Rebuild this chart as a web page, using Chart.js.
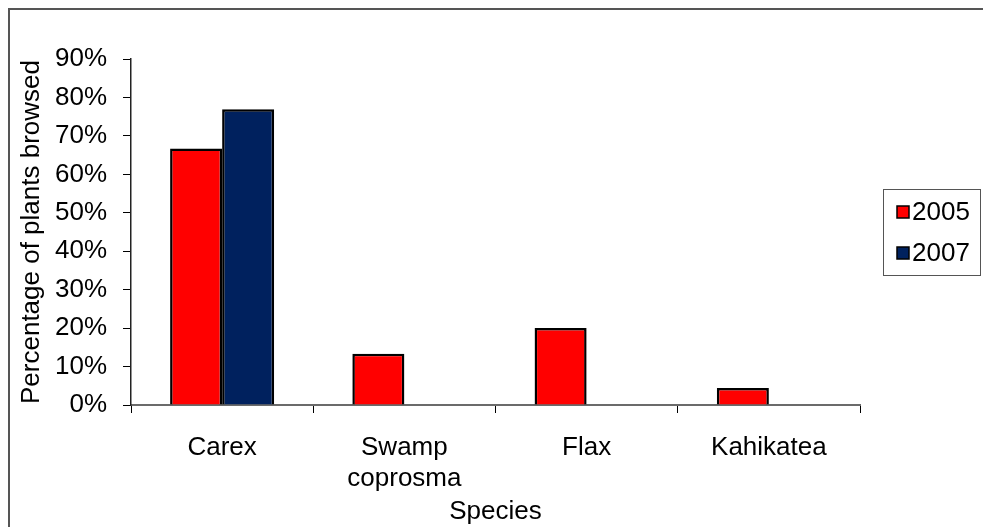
<!DOCTYPE html>
<html>
<head>
<meta charset="utf-8">
<script src="https://cdn.jsdelivr.net/npm/chart.js@4/dist/chart.umd.min.js"></script>
<style>
  html, body { margin: 0; padding: 0; background: #fff; overflow: hidden; }
  #wrap { position: relative; width: 983px; height: 527px; }
  #frame { position: absolute; left: 8px; top: 8px; width: 1100px; height: 700px;
           border: 2px solid #555; box-sizing: border-box; }
  canvas { position: absolute; left: 0; top: 0; }
</style>
</head>
<body>
<div id="wrap">
  <div id="frame"></div>
  <canvas id="chart" width="983" height="527"></canvas>
</div>
<script>
// Chart data
const species = ['Carex', ['Swamp', 'coprosma'], 'Flax', 'Kahikatea'];
const years = ['2005', '2007'];
const browsed2005 = [66.7, 13.3, 20, 4.4];
const browsed2007 = [76.9, 0, 0, 0];
const yTicks = [0, 10, 20, 30, 40, 50, 60, 70, 80, 90];

const barColors = ['#ff0000', '#00215e'];
const FONT = "'Liberation Sans', Arial, sans-serif";

Chart.defaults.font.family = FONT;
Chart.defaults.color = '#000';

// Legend drawn as a boxed key like the original
const boxLegend = {
    id: 'boxLegend',
    afterDraw(chart) {
        const ctx = chart.ctx;
        ctx.save();
        ctx.strokeStyle = '#555';
        ctx.lineWidth = 1;
        ctx.strokeRect(883.5, 189.5, 97, 86);
        ctx.font = '26px ' + FONT;
        ctx.textBaseline = 'middle';
        ctx.textAlign = 'left';
        chart.data.datasets.forEach((ds, i) => {
            const cy = 212 + i * 41;
            ctx.fillStyle = ds.backgroundColor;
            ctx.fillRect(897, cy - 6, 12, 12);
            ctx.strokeStyle = '#000';
            ctx.lineWidth = 1.5;
            ctx.strokeRect(897, cy - 6, 12, 12);
            ctx.fillStyle = '#000';
            ctx.fillText(ds.label, 912, cy + 1);
        });
        ctx.restore();
    }
};

const ctx = document.getElementById('chart').getContext('2d');
new Chart(ctx, {
    type: 'bar',
    data: {
        labels: species,
        datasets: [
            {
                label: years[0],
                data: browsed2005,
                backgroundColor: barColors[0],
                borderColor: '#000',
                borderWidth: 2.5,
                categoryPercentage: 0.571,
                barPercentage: 1
            },
            {
                label: years[1],
                data: browsed2007,
                backgroundColor: barColors[1],
                borderColor: '#000',
                borderWidth: 2.5,
                categoryPercentage: 0.571,
                barPercentage: 1
            }
        ]
    },
    options: {
        responsive: false,
        animation: false,
        layout: { padding: { left: 0, right: 123, top: 59, bottom: 0 } },
        plugins: {
            legend: { display: false },
            tooltip: { enabled: false }
        },
        scales: {
            x: {
                afterFit: s => { s.height = 122; },
                grid: { drawOnChartArea: false, offset: true, tickLength: 8, color: '#000', lineWidth: 1 },
                border: { color: '#6b6b6b', width: 2 },
                ticks: { font: { size: 26 }, color: '#000', padding: 19, maxRotation: 0, autoSkip: false },
                title: { display: true, text: 'Species', font: { size: 26 }, color: '#000', padding: { top: 0, bottom: 0 } }
            },
            y: {
                min: 0,
                max: 90,
                afterFit: s => { s.width = 131; },
                afterBuildTicks: s => { s.ticks = yTicks.map(v => ({ value: v })); },
                grid: { drawOnChartArea: false, tickLength: 8, color: '#000', lineWidth: 1 },
                border: { color: '#222', width: 1.5 },
                ticks: { font: { size: 26 }, color: '#000', padding: 16, callback: v => v + '%' },
                title: { display: true, text: 'Percentage of plants browsed', font: { size: 26 }, color: '#000', padding: { top: 16, bottom: 0 } }
            }
        }
    },
    plugins: [boxLegend]
});
</script>
</body>
</html>
